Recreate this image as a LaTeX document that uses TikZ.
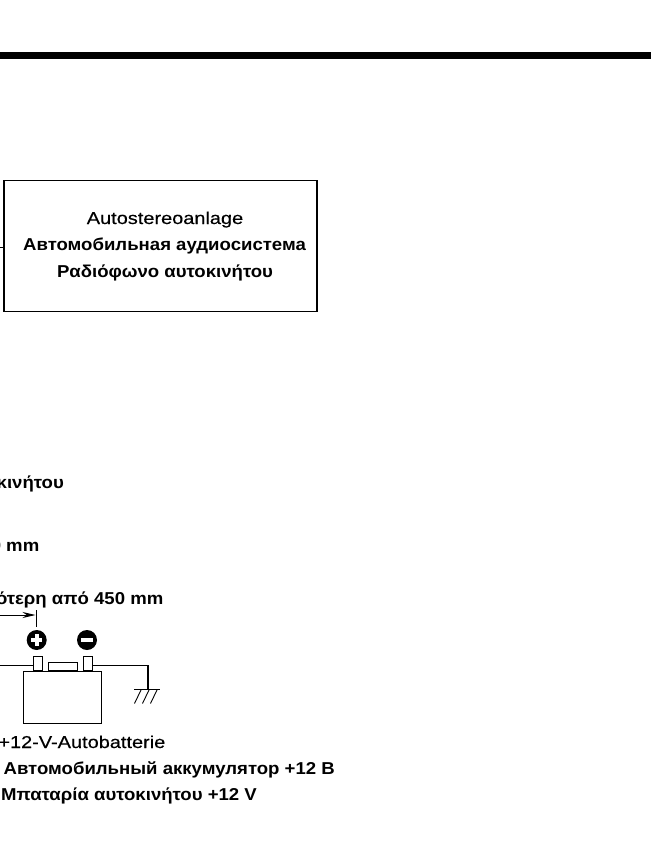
\documentclass[tikz,border=0pt]{standalone}
\usepackage{fontspec}
\setmainfont{Liberation Sans}
\newfontfamily\boldwide[FakeStretch=1.08]{Liberation Sans Bold}
\newfontfamily\regwide[FakeStretch=1.16,FakeBold=0.3]{Liberation Sans}
\usetikzlibrary{arrows.meta}
\tikzset{
  label/.style={inner sep=0pt,font=\boldwide\fontsize{17.2}{20}\selectfont,text=black},
  reg/.style={inner sep=0pt,font=\regwide\fontsize{17.2}{20}\selectfont,text=black},
  wire/.style={line width=1.8pt,black},
  thin/.style={line width=0.9pt,black},
  outline/.style={draw=black,line width=1.7pt,inner sep=0pt},
}
\begin{document}
\begin{tikzpicture}[x=1pt,y=-1pt]
\useasboundingbox (0,0) rectangle (651,859);
\clip (0,0) rectangle (651,859);
\fill[black] (0,52.5) rectangle (651,59);
% box
\node[outline,minimum width=313pt,minimum height=131pt,anchor=north west] (unit) at (3,179.5) {};
\coordinate (stub) at (0,247);
\draw[thin] (stub) -- (stub -| unit.west);
\node[reg,anchor=base] (t1) at (165,224) {Autostereoanlage};
\node[label,anchor=base] (t2) at (164.5,250.5) {Автомобильная аудиосистема};
\node[label,anchor=base] (t3) at (165,277.5) {Ραδιόφωνο αυτοκινήτου};
% clipped lines
\node[label,anchor=base east] (t4) at (64,488) {κινήτου};
\node[label,anchor=base east] (t5) at (39.5,551) {0 mm};
\node[label,anchor=base east] (t6) at (163.5,604) {ότερη από 450 mm};
% battery
\node[outline,minimum width=78pt,minimum height=52pt,anchor=north west] (batt) at (22.5,670.5) {};
\node[outline,line width=1.4pt,minimum width=9pt,minimum height=14pt,anchor=south west] (tl) at (32.5,671) {};
\node[outline,line width=1.4pt,minimum width=9pt,minimum height=14pt,anchor=south west] (tr) at (82.5,671) {};
\node[outline,line width=1.4pt,minimum width=29pt,minimum height=8pt,anchor=south west] (cap) at (47.5,671) {};
\coordinate (wl) at (0,665.5);
\coordinate (gnd) at (148,689.5);
\draw[wire] (wl) -- (wl -| tl.west);
\draw[wire] (tr.east |- wl) -| (gnd);
\coordinate (g1) at (134,689.5);
\coordinate (g2) at (160,689.5);
\draw[line width=1.7pt] (g1) -- (g2);
\draw[thin] (141,690) -- (134.5,703.5);
\draw[thin] (149,690) -- (142.5,703.5);
\draw[thin] (157,690) -- (150.5,703.5);
% polarity
\node[circle,fill=black,minimum size=20pt,inner sep=0pt] (plus) at (36.7,640) {};
\fill[white] (31,638.2) rectangle (42.4,641.8);
\fill[white] (34.9,634.3) rectangle (38.5,645.7);
\node[circle,fill=black,minimum size=20pt,inner sep=0pt] (minus) at (87,640) {};
\fill[white] (81,638.2) rectangle (93,641.8);
% dimension
\coordinate (ds) at (0,615);
\coordinate (tt) at (36.5,610);
\coordinate (tb) at (36.5,627);
\draw[thin] (tt) -- (tb);
\draw[thin,-{Stealth[length=13pt,width=6pt]}] (ds) -- (35.5,615);
% labels
\node[reg,anchor=base east] (b1) at (165.5,748) {+12-V-Autobatterie};
\node[label,anchor=base east] (b2) at (335,774.5) {Автомобильный аккумулятор +12 В};
\node[label,anchor=base east] (b3) at (257,800) {Μπαταρία αυτοκινήτου +12 V};
\end{tikzpicture}
\end{document}
